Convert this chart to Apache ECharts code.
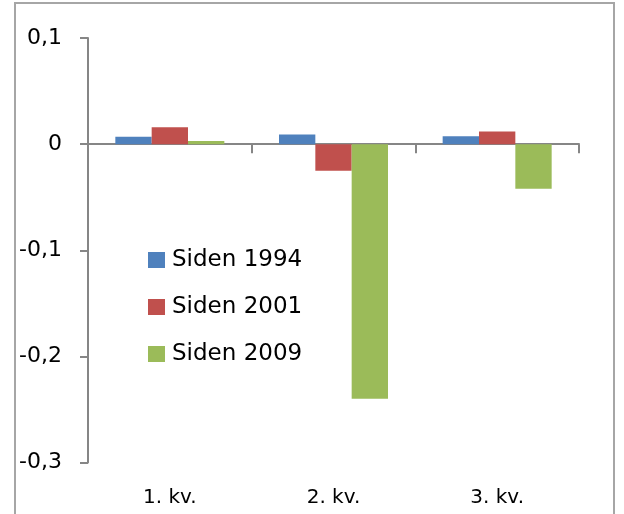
<!DOCTYPE html>
<html><head><meta charset="utf-8">
<script src="https://cdn.jsdelivr.net/npm/echarts@6/dist/echarts.min.js"></script>
<style>html,body{margin:0;padding:0;background:#fff}#c{width:624px;height:514px}</style>
</head><body><div id="c"></div>
<script>
const categories = ['1. kv.', '2. kv.', '3. kv.'];
const seriesNames = ['Siden 1994', 'Siden 2001', 'Siden 2009'];
const siden1994 = [0.007, 0.009, 0.0075];
const siden2001 = [0.016, -0.025, 0.012];
const siden2009 = [0.003, -0.24, -0.042];
const yTicks = [-0.3, -0.2, -0.1, 0, 0.1];
const colors = ['#4f81bd', '#c0504d', '#9bbb59'];
const font = '"DejaVu Sans", sans-serif';
const axisGrey = '#868686';

const chart = echarts.init(document.getElementById('c'), null, {renderer: 'canvas'});
const values = [siden1994, siden2001, siden2009];
chart.setOption({
  animation: false,
  backgroundColor: '#fff',
  graphic: [{
    type: 'rect', shape: {x: 15, y: 3, width: 599, height: 530},
    style: {fill: 'none', stroke: '#a6a6a6', lineWidth: 2}, silent: true
  }],
  grid: {left: 88, right: 45, top: 38, bottom: 51.5},
  legend: {
    orient: 'vertical', left: 143, top: 242,
    itemWidth: 17, itemHeight: 16, itemGap: 21,
    icon: 'rect',
    textStyle: {fontFamily: font, fontSize: 23, lineHeight: 26, color: '#000', padding: [0, 0, 0, 2]},
    data: seriesNames
  },
  xAxis: [{
    type: 'category', data: categories,
    axisLine: {onZero: true, lineStyle: {color: axisGrey, width: 2}},
    axisTick: {show: true, length: 9, lineStyle: {color: axisGrey, width: 2}},
    axisLabel: {show: false},
    splitLine: {show: false}
  }, {
    type: 'category', data: categories, position: 'bottom',
    axisLine: {show: false}, axisTick: {show: false},
    axisLabel: {fontFamily: font, fontSize: 20, color: '#000', margin: 25}
  }],
  yAxis: {
    type: 'value', min: -0.3, max: 0.1, interval: 0.1,
    axisLine: {show: true, lineStyle: {color: axisGrey, width: 2}},
    axisTick: {show: true, length: 8, lineStyle: {color: axisGrey, width: 2}},
    splitLine: {show: false},
    axisLabel: {
      fontFamily: font, fontSize: 22, color: '#000', margin: 26,
      formatter: v => {
        const r = Math.round(v * 10) / 10;
        return r === 0 ? '0' : String(r).replace('.', ',');
      }
    }
  },
  series: seriesNames.map((n, i) => ({
    name: n, type: 'bar', data: values[i], xAxisIndex: 0,
    barGap: '0%', barCategoryGap: '33.4%',
    itemStyle: {color: colors[i]}
  }))
});
</script></body></html>
